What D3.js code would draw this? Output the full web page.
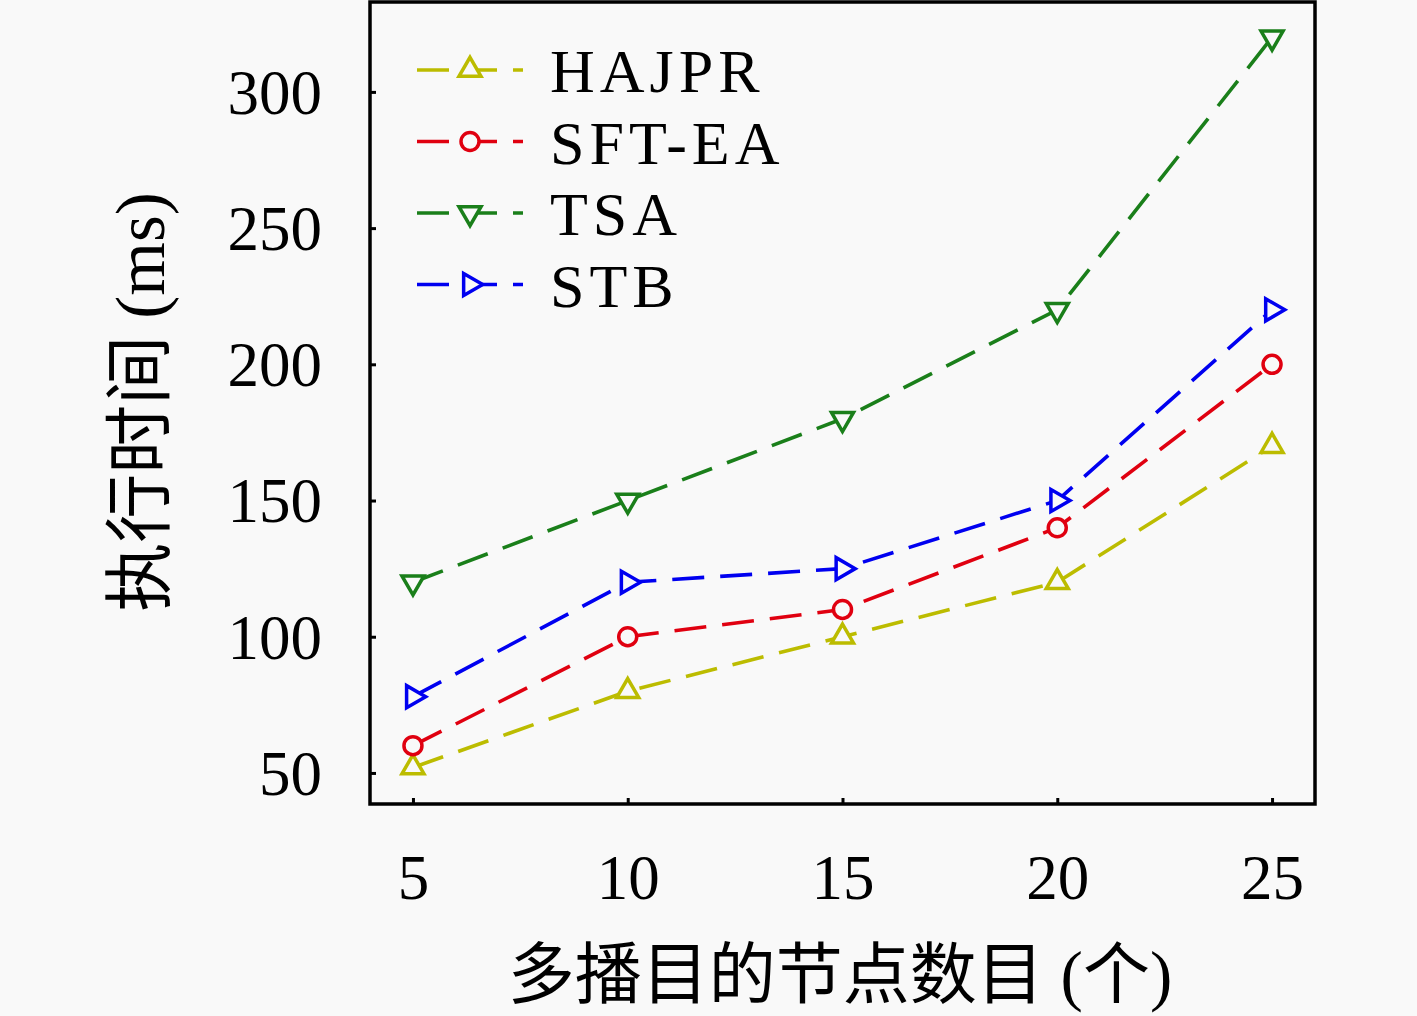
<!DOCTYPE html>
<html>
<head>
<meta charset="utf-8">
<script src="https://cdn.jsdelivr.net/npm/d3@7/dist/d3.min.js"></script>
<style>
  html, body { margin: 0; padding: 0; background: #f9f9f9; }
  text { font-family: "Liberation Serif", "DejaVu Serif", serif; fill: #000; }
  .cjk { font-family: "Noto Sans CJK SC", sans-serif; }
</style>
</head>
<body>
<div id="chart"></div>
<script>
// data
const nodes = [5, 10, 15, 20, 25];
const seriesNames = ['HAJPR', 'SFT-EA', 'TSA', 'STB'];
const hajpr = [52, 80, 100, 120, 170];
const sftea = [60, 100, 110, 140, 200];
const tsa   = [120, 150, 180, 220, 320];
const stb   = [78, 120, 125, 150, 220];
const yTicks = [50, 100, 150, 200, 250, 300];
const xTicks = [5, 10, 15, 20, 25];

const svgW = 1417, svgH = 1016;
const bg = '#f9f9f9';

const chart = d3.select('#chart').append('svg')
  .attr('width', svgW)
  .attr('height', svgH);

chart.append('rect').attr('width', svgW).attr('height', svgH).attr('fill', bg);

const x = d3.scaleLinear().domain([4, 26]).range([370, 1315]);
const y = d3.scaleLinear().domain([38.6, 333]).range([804, 2]);

// series styling
const series = [
  { name: seriesNames[0], vals: hajpr, color: '#bcbc00', shape: 'up' },
  { name: seriesNames[1], vals: sftea, color: '#e00010', shape: 'circle' },
  { name: seriesNames[2], vals: tsa,   color: '#1a7f1a', shape: 'down' },
  { name: seriesNames[3], vals: stb,   color: '#0000f0', shape: 'right' }
];

function marker(g, shape, color) {
  if (shape === 'circle') {
    g.append('circle').attr('r', 9)
      .attr('fill', bg).attr('stroke', color).attr('stroke-width', 3.5);
  } else {
    const rot = shape === 'up' ? 0 : shape === 'down' ? 180 : 90;
    g.append('path')
      .attr('d', d3.symbol().type(d3.symbolTriangle).size(210)())
      .attr('transform', `rotate(${rot})`)
      .attr('fill', bg).attr('stroke', color).attr('stroke-width', 3.5);
  }
}

const line = d3.line().x((d, i) => x(nodes[i])).y(d => y(d));

const plot = chart.append('g');
series.forEach(s => {
  plot.append('path')
    .datum(s.vals)
    .attr('d', line)
    .attr('fill', 'none')
    .attr('stroke', s.color)
    .attr('stroke-width', 3.6)
    .attr('stroke-dasharray', '32,16');
});
series.forEach(s => {
  s.vals.forEach((v, i) => {
    const g = plot.append('g').attr('transform', `translate(${x(nodes[i])},${y(v)})`);
    marker(g, s.shape, s.color);
  });
});

// axes: inward ticks on left and bottom
const yAxis = chart.append('g')
  .attr('transform', `translate(${x.range()[0]},0)`)
  .call(d3.axisLeft(y).tickValues(yTicks).tickSize(-6).tickPadding(48));
const xAxis = chart.append('g')
  .attr('transform', `translate(0,${y.range()[0]})`)
  .call(d3.axisBottom(x).tickValues(xTicks).tickSize(-6).tickPadding(50));
[yAxis, xAxis].forEach(a => {
  a.select('.domain').remove();
  a.selectAll('.tick line').attr('stroke', '#000').attr('stroke-width', 3);
  a.selectAll('.tick text')
    .style('font-family', '"Liberation Serif", serif')
    .style('font-size', '63px')
    .attr('fill', '#000');
});
yAxis.selectAll('.tick text').attr('dy', '0.34em');

// frame
chart.append('rect')
  .attr('x', x.range()[0]).attr('y', y.range()[1])
  .attr('width', x.range()[1] - x.range()[0])
  .attr('height', y.range()[0] - y.range()[1])
  .attr('fill', 'none').attr('stroke', '#000').attr('stroke-width', 3.5);

// legend
const legend = chart.append('g').attr('transform', 'translate(417,70)');
series.forEach((s, i) => {
  const row = legend.append('g').attr('transform', `translate(0,${i * 71.5})`);
  row.append('line')
    .attr('x1', 0).attr('x2', 106)
    .attr('stroke', s.color).attr('stroke-width', 3.6)
    .attr('stroke-dasharray', '32,16');
  const m = row.append('g').attr('transform', 'translate(53,0)');
  marker(m, s.shape, s.color);
  row.append('text')
    .attr('x', 133).attr('y', 0).attr('dy', '0.36em')
    .style('font-size', '62px')
    .style('letter-spacing', '5px')
    .text(s.name);
});

// axis labels
chart.append('text')
  .attr('x', 840).attr('y', 998)
  .attr('text-anchor', 'middle')
  .style('font-size', '67px')
  .call(t => {
    t.append('tspan').attr('class', 'cjk').text('多播目的节点数目');
    t.append('tspan').text(' (');
    t.append('tspan').attr('class', 'cjk').text('个');
    t.append('tspan').text(')');
  });

chart.append('text')
  .attr('transform', 'translate(164,402) rotate(-90)')
  .attr('text-anchor', 'middle')
  .style('font-size', '69px')
  .call(t => {
    t.append('tspan').attr('class', 'cjk').text('执行时间');
    t.append('tspan').text(' (ms)');
  });
</script>
</body>
</html>
